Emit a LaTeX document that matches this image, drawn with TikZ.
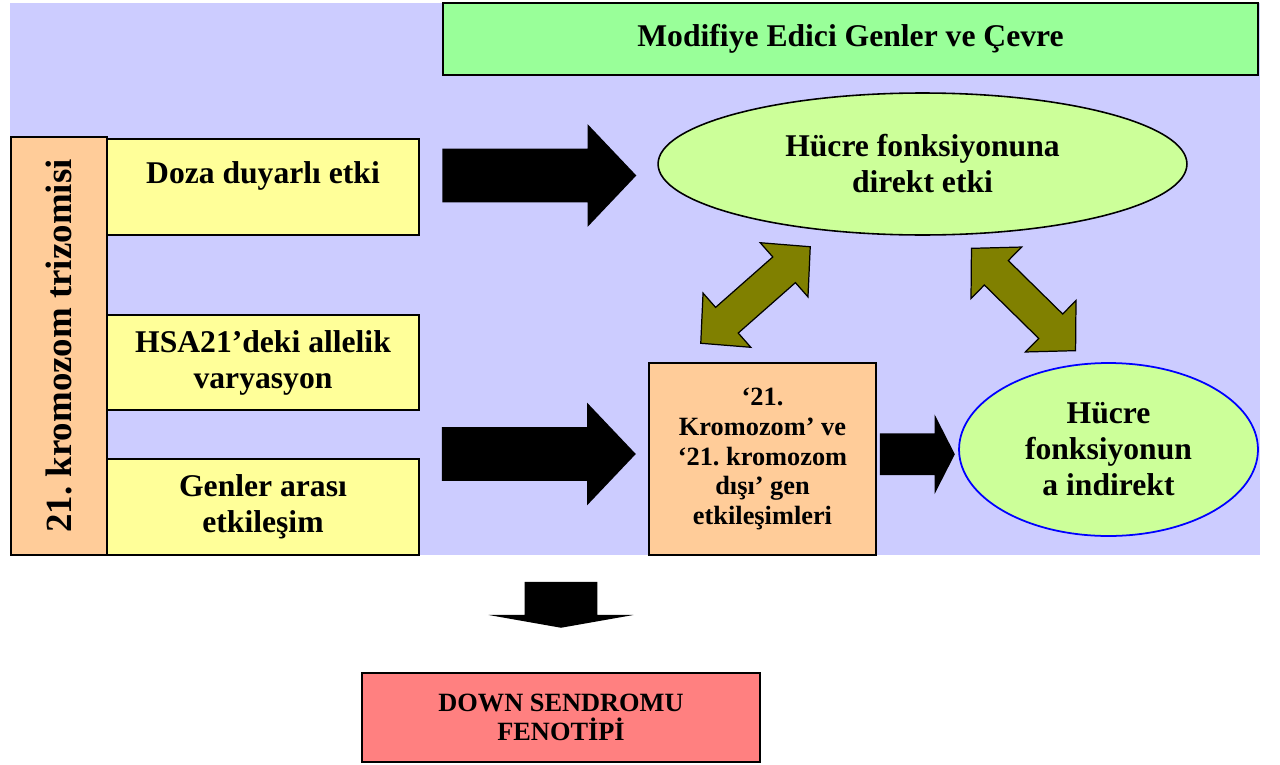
\documentclass[tikz,border=0pt]{standalone}
\usepackage{fontspec}
\setmainfont{Liberation Serif}
\usetikzlibrary{shapes.geometric,shapes.arrows,calc}
\definecolor{lavender}{HTML}{CCCCFF}
\definecolor{mint}{HTML}{99FF99}
\definecolor{peach}{HTML}{FFCC99}
\definecolor{cream}{HTML}{FFFF99}
\definecolor{limegreen}{HTML}{CCFF99}
\definecolor{olivebrown}{HTML}{808000}
\definecolor{rose}{HTML}{FF8080}

\begin{document}
\begin{tikzpicture}[x=0.02cm,y=-0.02cm,
  box/.style={draw,line width=1.1pt,inner sep=0pt,align=center,
    font=\fontsize{18}{20.5}\selectfont\bfseries},
  small/.style={font=\fontsize{15}{17}\selectfont\bfseries},
  blk/.style={single arrow,fill=black,inner xsep=0pt,single arrow tip angle=93},
  dbl/.style={double arrow,draw,fill=olivebrown,line width=0.7pt,inner xsep=0pt,
    inner ysep=0.33cm,minimum height=2.92cm,
    double arrow head extend=0.38cm,double arrow tip angle=92}]
  \useasboundingbox (0,0) rectangle (1280,764);
  \fill[lavender] (10,3) rectangle (1260,555);

  \node[box,fill=mint,minimum width=16.3cm,minimum height=1.44cm] (mod) at (850.5,39)
    {Modifiye Edici Genler ve Çevre};
  \node[box,fill=peach,rotate=90,minimum width=8.36cm,minimum height=1.92cm,
    font=\fontsize{21}{24}\selectfont\bfseries] (tri) at (59,346) {21.\ kromozom trizomisi};
  \node[box,fill=cream,minimum width=6.24cm,minimum height=1.92cm,text depth=17pt] (doza)
    at (263,187) {Doza duyarlı etki};
  \node[box,fill=cream,minimum width=6.24cm,minimum height=1.9cm] (allel) at (263,362.5)
    {HSA21’deki allelik\\varyasyon};
  \node[box,fill=cream,minimum width=6.24cm,minimum height=1.92cm] (gen) at (263,507)
    {Genler arası\\etkileşim};

  \node[box,ellipse,fill=limegreen,line width=0.9pt,minimum width=10.58cm,minimum height=2.84cm]
    (direkt) at (922.5,164) {Hücre fonksiyonuna\\direkt etki};
  \node[box,small,fill=peach,minimum width=4.54cm,minimum height=3.84cm] (etk) at (762.5,459)
    {‘21.\\Kromozom’ ve\\‘21.\ kromozom\\dışı’ gen\\etkileşimleri};
  \node[box,ellipse,fill=limegreen,draw=blue,line width=1pt,minimum width=5.98cm,
    minimum height=3.46cm] (ind) at (1108.5,449.5) {Hücre\\fonksiyonun\\a indirekt};
  \node[box,fill=rose,font=\fontsize{15}{16.5}\selectfont\bfseries,minimum width=7.96cm,
    minimum height=1.78cm] (down) at (561,717.5) {DOWN SENDROMU\\FENOTİPİ};

  \node[blk,minimum height=3.88cm,inner ysep=0.53cm,single arrow head extend=0.49cm] (a1)
    at ($(doza.east)!.5!(direkt.west)+(-12,0)$) {};
  \node[blk,minimum height=3.88cm,inner ysep=0.53cm,single arrow head extend=0.49cm] (a2)
    at ($(etk.west)+(-122,-5)$) {};
  \node[blk,minimum height=1.5cm,inner ysep=0.41cm,single arrow head extend=0.38cm,
    single arrow tip angle=126] (a3) at ($(etk.east)!.5!(ind.west)+(-5.5,0)$) {};
  \node[blk,rotate=-90,minimum height=0.92cm,inner ysep=0.72cm,single arrow head extend=0.72cm,
    single arrow tip angle=160] (a4) at ($(down.north)+(0,-70.5)$) {};

  \node[dbl,rotate=41.4] (dA) at (755.5,295) {};
  \node[dbl,rotate=-44.5] (dB) at (1023.5,299.5) {};
\end{tikzpicture}
\end{document}
